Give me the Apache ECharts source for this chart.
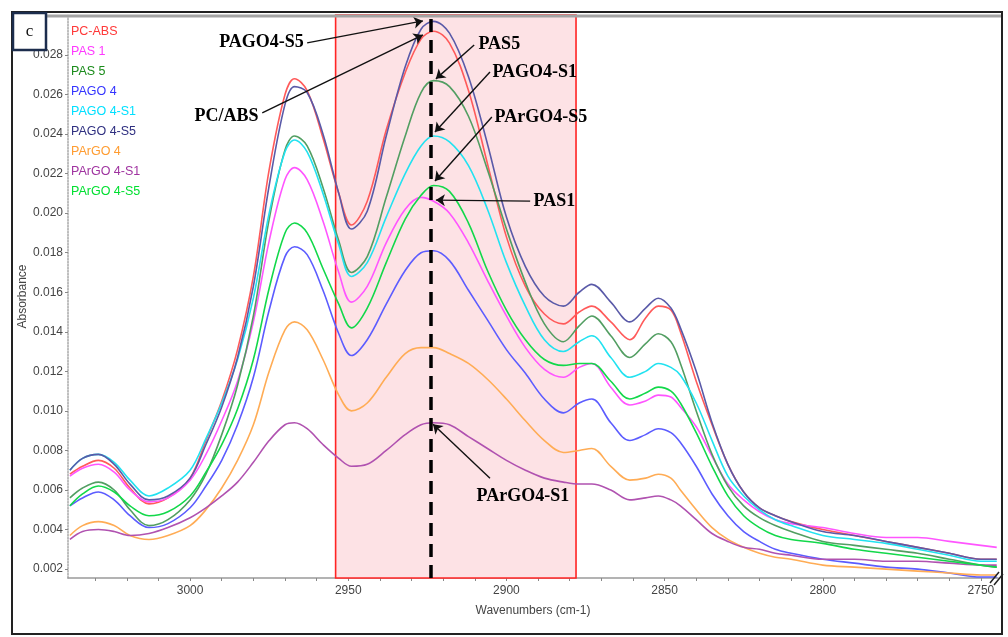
<!DOCTYPE html>
<html>
<head>
<meta charset="utf-8">
<script src="https://cdn.jsdelivr.net/npm/echarts@6.0.0/dist/echarts.min.js"></script>
<style>
html,body{margin:0;padding:0;background:#fff;}
#chart{width:1008px;height:637px;}
</style>
</head>
<body>
<div id="chart"></div>
<script>
// ---- data ----
const wavenumbers = [3038,3034,3029,3024,3019,3013,3007,3000,2995,2990,2985,2980,2975,2970,2967,2963,2958,2953,2949,2944,2938,2932,2927,2923,2918,2912,2906,2900,2894,2888,2882,2877,2873,2867,2861,2856,2852,2848,2845,2840,2835,2830,2825,2820,2815,2810,2800,2790,2780,2770,2760,2750,2745];

const seriesNames = ['PC-ABS','PAS 1','PAS 5','PAGO 4','PAGO 4-S1','PAGO 4-S5','PArGO 4','PArGO 4-S1','PArGO 4-S5'];

const pcAbs   = [.0068,.0072,.0075,.0071,.0061,.0053,.0056,.0066,.0085,.0105,.0131,.0168,.0222,.0260,.0268,.0262,.0238,.0210,.0194,.0206,.0242,.0271,.0288,.0292,.0286,.0262,.0225,.0188,.0163,.0149,.0144,.0150,.0153,.0145,.0136,.0147,.0153,.0151,.0140,.0115,.0093,.0073,.0059,.0051,.0047,.0044,.0040,.0037,.0034,.0031,.0028,.0025,.0025];
const pas1    = [.0067,.0071,.0073,.0069,.0060,.0054,.0056,.0065,.0078,.0095,.0115,.0145,.0186,.0217,.0223,.0217,.0196,.0170,.0155,.0163,.0185,.0202,.0208,.0206,.0200,.0185,.0166,.0148,.0132,.0121,.0117,.0122,.0124,.0112,.0103,.0105,.0108,.0107,.0102,.0092,.0077,.0063,.0055,.0049,.0045,.0043,.0041,.0038,.0036,.0036,.0034,.0032,.0031];
const pas5    = [.0056,.0061,.0064,.0060,.0050,.0042,.0045,.0055,.0068,.0088,.0113,.0148,.0197,.0232,.0239,.0234,.0213,.0186,.0170,.0178,.0208,.0239,.0261,.0267,.0264,.0249,.0222,.0192,.0165,.0144,.0135,.0143,.0148,.0138,.0127,.0134,.0139,.0135,.0124,.0100,.0078,.0062,.0052,.0046,.0042,.0039,.0034,.0032,.0030,.0028,.0025,.0022,.0021];
const pago4   = [.0052,.0056,.0059,.0055,.0047,.0041,.0043,.0051,.0062,.0075,.0093,.0117,.0151,.0178,.0183,.0179,.0161,.0139,.0128,.0136,.0154,.0171,.0180,.0181,.0176,.0161,.0146,.0131,.0119,.0106,.0099,.0104,.0106,.0094,.0085,.0088,.0091,.0089,.0084,.0072,.0058,.0047,.0039,.0034,.0030,.0028,.0025,.0023,.0021,.0020,.0018,.0016,.0016];
const pago4S1 = [.0070,.0076,.0078,.0074,.0065,.0057,.0061,.0070,.0086,.0104,.0126,.0157,.0200,.0231,.0237,.0231,.0210,.0184,.0168,.0175,.0198,.0220,.0234,.0239,.0236,.0224,.0202,.0175,.0153,.0136,.0130,.0135,.0138,.0127,.0117,.0120,.0124,.0122,.0118,.0104,.0085,.0067,.0057,.0050,.0045,.0042,.0037,.0035,.0033,.0030,.0027,.0024,.0024];
const pago4S5 = [.0070,.0076,.0078,.0073,.0063,.0055,.0057,.0066,.0083,.0102,.0127,.0163,.0214,.0255,.0264,.0261,.0240,.0210,.0192,.0201,.0239,.0274,.0293,.0297,.0291,.0269,.0235,.0198,.0173,.0158,.0153,.0160,.0164,.0155,.0145,.0152,.0157,.0152,.0142,.0120,.0094,.0073,.0059,.0051,.0047,.0044,.0039,.0037,.0034,.0031,.0028,.0025,.0025];
const pargo4  = [.0037,.0042,.0044,.0042,.0037,.0035,.0037,.0042,.0050,.0061,.0075,.0093,.0120,.0141,.0145,.0141,.0126,.0108,.0100,.0104,.0117,.0129,.0132,.0132,.0129,.0124,.0116,.0106,.0095,.0085,.0079,.0080,.0081,.0072,.0065,.0066,.0068,.0066,.0060,.0050,.0041,.0035,.0031,.0028,.0026,.0025,.0022,.0021,.0020,.0019,.0018,.0017,.0017];
const pargo4S1= [.0035,.0039,.0040,.0039,.0037,.0038,.0041,.0046,.0051,.0057,.0064,.0074,.0085,.0093,.0094,.0091,.0083,.0076,.0072,.0073,.0080,.0088,.0093,.0094,.0093,.0087,.0081,.0075,.0070,.0066,.0064,.0063,.0063,.0060,.0055,.0056,.0057,.0055,.0052,.0045,.0038,.0034,.0031,.0030,.0028,.0027,.0025,.0025,.0024,.0024,.0023,.0022,.0022];
const pargo4S5= [.0052,.0058,.0062,.0059,.0052,.0047,.0049,.0057,.0069,.0083,.0101,.0126,.0162,.0190,.0195,.0190,.0172,.0154,.0142,.0152,.0175,.0197,.0209,.0214,.0211,.0195,.0171,.0151,.0136,.0126,.0123,.0124,.0124,.0115,.0106,.0109,.0112,.0110,.0104,.0089,.0072,.0057,.0047,.0041,.0037,.0035,.0033,.0030,.0028,.0026,.0024,.0022,.0021];

const xTicks = [3000,2950,2900,2850,2800,2750];
const xMinorTicks = [3030,3020,3010,3000,2990,2980,2970,2960,2950,2940,2930,2920,2910,2900,2890,2880,2870,2860,2850,2840,2830,2820,2810,2800,2790,2780,2770,2760,2750];
const yTicks = [0.002,0.004,0.006,0.008,0.010,0.012,0.014,0.016,0.018,0.020,0.022,0.024,0.026,0.028];

// highlighted band and marker line (wavenumbers)
const bandRange = [2954, 2878];
const peakLine = 2923.8;

// annotations (data coordinates)
const annoLabels = ['PAGO4-S5','PC/ABS','PAS5','PAGO4-S1','PArGO4-S5','PAS1','PArGO4-S1'];
const annoTextAt = [[2963.9,0.02862],[2978.2,0.02491],[2909.0,0.02856],[2904.6,0.02714],[2903.9,0.02486],[2891.6,0.02061],[2909.6,0.00569]];
const annoSide = ['left','left','right','right','right','right','right'];
const arrowFrom = [[2963.0,0.02861],[2977.2,0.02507],[2910.2,0.02850],[2905.2,0.02714],[2904.6,0.02486],[2892.5,0.02061],[2905.2,0.00660]];
const arrowTo = [[2926.4,0.02972],[2926.4,0.02901],[2922.3,0.02679],[2922.6,0.02410],[2922.6,0.02163],[2922.3,0.02066],[2923.2,0.00933]];

// ---- styling ----
const seriesValues = [pcAbs,pas1,pas5,pago4,pago4S1,pago4S5,pargo4,pargo4S1,pargo4S5];
const lineColors = ['#ff5a5a','#ff55ff','#529e62','#5c5cff','#22e2f0','#5a5aa8','#ffac55','#b052b0','#12d84a'];
const legendColors = ['#ff3838','#ff38ff','#1a8c1a','#3434ff','#00e0ff','#2f2f80','#ff9c30','#a032a0','#00e030'];

const chart = echarts.init(document.getElementById('chart'), null, {renderer:'canvas'});

const lineSeries = seriesNames.map((n,i) => ({
  type:'line', name:n, smooth:0.35, showSymbol:false, symbol:'none',
  data: wavenumbers.map((w,j) => [w, seriesValues[i][j]]),
  lineStyle:{color:lineColors[i], width:1.6},
  itemStyle:{color:lineColors[i]},
  z:3
}));

const option = {
  animation:false,
  backgroundColor:'#ffffff',
  grid:{left:68, right:10, top:15, bottom:59},
  xAxis:{
    type:'value', inverse:true, min:2744.6, max:3038.6,
    axisLine:{show:true, onZero:false, lineStyle:{color:'#9a9a9a', width:1.5}},
    axisTick:{show:true, customValues:xMinorTicks, length:3, lineStyle:{color:'#888'}},
    axisLabel:{customValues:xTicks, color:'#444', fontSize:12, fontFamily:'Liberation Sans', margin:7,
      formatter:(v)=>String(Math.round(v))},
    splitLine:{show:false},
    name:'Wavenumbers (cm-1)', nameLocation:'middle', nameGap:27, nameMoveOverlap:false,
    nameTextStyle:{color:'#444', fontSize:12, fontFamily:'Liberation Sans'}
  },
  yAxis:{
    type:'value', min:0.00155, max:0.03002,
    axisLine:{show:true, onZero:false, lineStyle:{color:'#a8a8a8', width:1.5, type:'dotted'}},
    axisTick:{show:true, customValues:yTicks, length:3, lineStyle:{color:'#888'}},
    axisLabel:{customValues:yTicks, color:'#444', fontSize:12, fontFamily:'Liberation Sans', margin:5,
      formatter:(v)=>v.toFixed(3)},
    splitLine:{show:false},
    name:'Absorbance', nameLocation:'middle', nameGap:39, nameRotate:90, nameMoveOverlap:false,
    nameTextStyle:{color:'#444', fontSize:12, fontFamily:'Liberation Sans'}
  },
  legend:{
    orient:'vertical', left:66, top:25, icon:'none', itemWidth:0, itemHeight:14, itemGap:6.4,
    selectedMode:false, padding:0,
    textStyle:{fontSize:12.5, fontFamily:'Liberation Sans'},
    data: seriesNames.map((n,i)=>({name:n, textStyle:{color:legendColors[i]}}))
  },
  series:[
    {
      type:'line', name:'_band', data:[], z:1, clip:false,
      markArea:{silent:true,
        itemStyle:{color:'#fde2e5', borderColor:'#ff2424', borderWidth:1.6},
        data:[[{xAxis:bandRange[0]},{xAxis:bandRange[1]}]]}
    },
    ...lineSeries,
    {
      type:'line', name:'_marks', data:[], z:5, clip:false,
      markLine:{silent:true, symbol:['none','none'], animation:false,
        label:{show:false},
        lineStyle:{color:'#000', width:3.5, type:[13,8]},
        data:[{xAxis:peakLine}]}
    },
    {
      type:'line', name:'_arrows', data:[], z:6, clip:false,
      markLine:{silent:true, symbol:['none','arrow'], symbolSize:9, animation:false,
        label:{show:false},
        itemStyle:{color:'#111'},
        lineStyle:{color:'#111', width:1.4, type:'solid'},
        data: arrowFrom.map((f,i)=>[{coord:f},{coord:arrowTo[i]}])}
    },
    {
      type:'scatter', name:'_labels', z:7, symbolSize:1, silent:true,
      itemStyle:{color:'rgba(0,0,0,0)'},
      emphasis:{disabled:true},
      data: annoLabels.map((t,i)=>({name:t, value:annoTextAt[i],
        label:{show:true, position:annoSide[i], distance:0, formatter:t, opacity:1,
          fontFamily:'Liberation Serif', fontWeight:'bold', fontSize:18, color:'#000'}}))
    }
  ],
  graphic:[
    {type:'line', silent:true, z:10, shape:{x1:13,y1:16,x2:1001,y2:16}, style:{stroke:'#a4a4a4', lineWidth:3}},
    {type:'rect', silent:true, z:11, shape:{x:12,y:12,width:990,height:622}, style:{fill:'none', stroke:'#222', lineWidth:2}},
    {type:'rect', silent:true, z:12, shape:{x:13,y:13,width:33,height:37}, style:{fill:'#fff', stroke:'#1c2d4d', lineWidth:2.5}},
    {type:'text', silent:true, z:13, x:29.5, y:31.5, style:{text:'c', fill:'#111', font:'17px "Liberation Serif"', align:'center', verticalAlign:'middle'}},
    {type:'line', silent:true, z:12, shape:{x1:990,y1:583,x2:999,y2:572}, style:{stroke:'#222', lineWidth:1.5}},
    {type:'line', silent:true, z:12, shape:{x1:994,y1:585,x2:1003,y2:574}, style:{stroke:'#222', lineWidth:1.5}}
  ]
};
chart.setOption(option);
</script>
</body>
</html>
